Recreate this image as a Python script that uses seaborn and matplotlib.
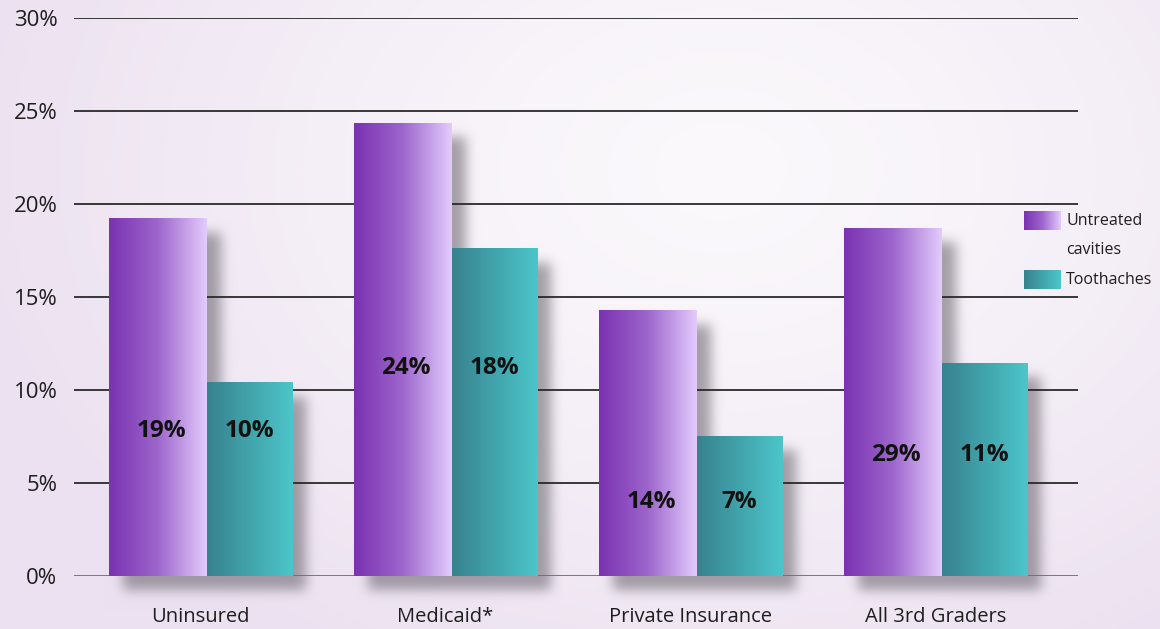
import numpy as np
import pandas as pd
import matplotlib
matplotlib.use("Agg")
import matplotlib.pyplot as plt
from matplotlib.colors import LinearSegmentedColormap
import seaborn as sns

# ---- data -------------------------------------------------------------
groups = ["Uninsured", "Medicaid*", "Private Insurance", "All 3rd Graders"]
series = ["Untreated cavities", "Toothaches"]
untreated = [19.2, 24.35, 14.25, 18.7]
toothaches = [10.4, 17.6, 7.5, 11.45]
untreated_labels = ["19%", "24%", "14%", "29%"]
toothache_labels = ["10%", "18%", "7%", "11%"]
yticks = [0, 5, 10, 15, 20, 25, 30]
ytick_labels = ["0%", "5%", "10%", "15%", "20%", "25%", "30%"]

# ---- layout / style ---------------------------------------------------
W, H, DPI = 1160, 629, 100
label_y = [7.8, 11.2, 4.0, 6.5]          # vertical placement of value labels
purple_w, teal_w = 0.40, 0.35
purple_cmap = LinearSegmentedColormap.from_list("pur", ["#7a32b1", "#9d66cc", "#e3cbfd"])
teal_cmap = LinearSegmentedColormap.from_list("teal", ["#37828e", "#4cc6ca"])
text_col = "#1e1e1e"

sns.set_theme(style="white")
plt.rcParams["font.family"] = ["Open Sans", "DejaVu Sans"]

fig = plt.figure(figsize=(W / DPI, H / DPI), dpi=DPI)
bg = fig.add_axes([0, 0, 1, 1], zorder=0)
bg.set_axis_off()
bg.set_xlim(0, W)
bg.set_ylim(H, 0)

ax = fig.add_axes([74 / W, (H - 576) / H, (1078 - 74) / W, (576 - 18) / H], zorder=1)
ax.set_facecolor("none")

df = pd.DataFrame({
    "group": groups * 2,
    "measure": [series[0]] * len(groups) + [series[1]] * len(groups),
    "value": untreated + toothaches,
})
sns.barplot(data=df, x="group", y="value", hue="measure", order=groups,
            hue_order=series, width=0.8, errorbar=None, saturation=1,
            legend=False, ax=ax)

# reshape bars and paint them with horizontal gradients
grad = np.linspace(0, 1, 256).reshape(1, -1)
bar_rects = []
for k_s, (cont, cmap, bw, labels) in enumerate(
        [(ax.containers[0], purple_cmap, purple_w, untreated_labels),
         (ax.containers[1], teal_cmap, teal_w, toothache_labels)]):
    for i, p in enumerate(cont.patches):
        x0 = i - purple_w if k_s == 0 else i
        p.set_x(x0)
        p.set_width(bw)
        p.set_facecolor("none")
        p.set_edgecolor("none")
        h = p.get_height()
        ax.imshow(grad, cmap=cmap, extent=(x0, x0 + bw, 0, h), aspect="auto",
                  zorder=2, interpolation="bilinear")
        bar_rects.append((x0, x0 + bw, h))
        ax.text(x0 + bw / 2 + (0.015 if k_s == 0 else 0), label_y[i], labels[i],
                ha="center", va="center", fontsize=17.5, fontweight="bold",
                color="#111111", zorder=4)

ax.set_xlim(-0.541, 3.557)
ax.set_ylim(0, 30)

# gridlines
for t in yticks:
    if t == 0:
        ax.axhline(t, color="#6e6e6e", lw=2.0, zorder=1.5)
    else:
        ax.axhline(t, color="#2a2a2a", lw=1.3, zorder=1.5)

ax.set_yticks(yticks)
ax.set_yticklabels(ytick_labels, fontsize=16, color=text_col)
centers = [(i - purple_w + i + teal_w) / 2 for i in range(len(groups))]
ax.set_xticks(centers)
ax.set_xticklabels(groups, fontsize=14.5, color=text_col)
ax.tick_params(axis="y", length=0, pad=12)
ax.tick_params(axis="x", length=0, pad=22)
ax.set_xlabel("")
ax.set_ylabel("")
sns.despine(ax=ax, left=True, bottom=True)

# ---- background with soft drop shadows ---------------------------------
yy, xx = np.mgrid[0:H, 0:W].astype(float)
d = np.sqrt(((xx - 720) / 760) ** 2 + ((yy - 170) / 560) ** 2)
t = np.clip(d, 0, 1) ** 1.3
c_center = np.array([251, 249, 252]) / 255
c_edge = np.array([236, 225, 240]) / 255
img = c_center[None, None, :] * (1 - t[..., None]) + c_edge[None, None, :] * t[..., None]

fig.canvas.draw()
mask = np.zeros((H, W))
dx, dy = 14, 14
for x0, x1, h in bar_rects:
    (px0, py0) = ax.transData.transform((x0, 0))
    (px1, py1) = ax.transData.transform((x1, h))
    c0, c1 = int(round(px0)) + dx, int(round(px1)) + dx
    r0, r1 = int(round(H - py1)) + dy, int(round(H - py0)) + dy
    mask[max(r0, 0):min(r1, H), max(c0, 0):min(c1, W)] = 1.0

sigma = 6.0
k = np.arange(-20, 21)
kern = np.exp(-k ** 2 / (2 * sigma ** 2))
kern /= kern.sum()
mask = np.apply_along_axis(lambda r: np.convolve(r, kern, mode="same"), 1, mask)
mask = np.apply_along_axis(lambda c: np.convolve(c, kern, mode="same"), 0, mask)
shadow_col = np.array([95, 90, 100]) / 255
a = (mask * 0.55)[..., None]
img = img * (1 - a) + shadow_col[None, None, :] * a

bg.imshow(img, extent=(0, W, H, 0), origin="upper", aspect="auto",
          interpolation="bilinear", zorder=0)

# ---- legend -----------------------------------------------------------
bg.imshow(grad, cmap=purple_cmap, extent=(1024, 1061, 230, 211), origin="upper",
          aspect="auto", zorder=2)
bg.imshow(grad, cmap=teal_cmap, extent=(1024, 1061, 289, 270), origin="upper",
          aspect="auto", zorder=2)
for txt, yv in [("Untreated", 221), ("cavities", 250), ("Toothaches", 280)]:
    bg.text(1066, yv, txt, fontsize=11.5, color=text_col, va="center", ha="left", zorder=3)
bg.set_xlim(0, W)
bg.set_ylim(H, 0)

fig.savefig("out.png", dpi=DPI)
